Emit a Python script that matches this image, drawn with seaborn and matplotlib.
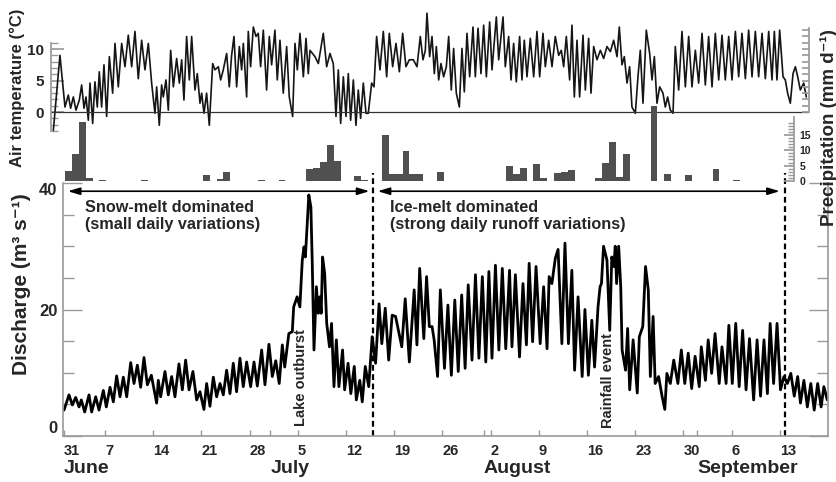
import numpy as np
import pandas as pd
import matplotlib
matplotlib.use("Agg")
import matplotlib.pyplot as plt
import matplotlib.transforms as mtransforms
from matplotlib.ticker import FixedLocator
import seaborn as sns

# ---------------- data (days since 1 June) ----------------
# Discharge (m3 s-1): alternating daily extremes
q_day = [0.05, 0.77, 1.26, 1.74, 2.23, 2.56, 3.05, 3.68, 4.06, 4.65, 5.13, 5.76, 6.19, 6.73,
         7.21, 7.69, 8.18, 8.66, 9.15, 9.73, 10.21, 10.7, 11.18, 11.66, 12.15, 12.73, 13.5, 13.74,
         14.08, 14.71, 15.19, 15.68, 16.16, 16.74, 17.23, 17.71, 18.2, 18.77, 19.31, 19.79, 20.37,
         20.76, 21.24, 21.73, 22.21, 22.7, 23.18, 23.66, 24.15, 24.63, 25.11, 25.6, 26.08, 26.57,
         27.15, 27.64, 28.12, 28.75, 29.23, 29.81,
         30.3, 30.8, 31.3, 31.75, 32.1, 32.7, 33.2, 33.4, 33.9, 34.3, 34.65, 34.9, 35.1, 35.4,
         35.6, 35.9, 36.1, 36.35, 36.7, 36.97, 37.2, 37.4, 37.6, 37.9, 38.2, 38.6, 38.9, 39.25,
         39.6, 39.97, 40.5, 40.8, 41.3, 41.7, 42.2, 42.5, 43.0, 43.36, 43.8, 44.3, 44.8, 45.05,
         45.3, 45.8, 46.2, 46.7, 47.2, 47.7, 48.2, 49.1, 49.6, 50.2, 50.9, 51.3, 51.7, 52.3,
         52.7, 53.1, 53.5, 53.8, 54.3, 54.7, 55.3, 55.8, 56.3, 56.8, 57.3, 57.8, 58.3, 58.75,
         59.3, 59.8, 60.3, 60.8, 61.3, 61.75, 62.2, 62.7, 63.2, 63.7, 64.2, 64.75, 65.1, 65.6,
         66.2, 66.7, 67.2, 67.6, 68.1, 68.6, 69.2, 69.7, 70.2, 70.5, 70.9, 71.4, 71.8, 72.35,
         72.8, 73.3, 73.8, 74.2, 74.7, 75.3, 75.7, 76.2, 76.7, 77.1, 77.6, 77.9, 78.1, 78.4,
         78.9, 79.3, 79.6, 79.9, 80.1, 80.3, 80.6, 80.9, 81.1, 81.6, 81.9, 82.2, 82.7, 83.3,
         83.6, 84.1, 84.5, 84.9, 85.2, 85.6, 85.9, 86.4, 86.9, 87.3, 87.6, 88.1, 88.6, 89.2,
         89.7, 90.2, 90.7, 91.2, 91.7, 92.3, 92.6, 93.2, 93.6, 94.1, 94.6, 95.2, 95.6, 96.2,
         96.6, 97.1, 97.6, 98.1, 98.6, 99.1, 99.6, 100.2, 100.7, 101.2, 101.7, 102.2, 102.6,
         103.1, 103.6, 104.1, 104.6, 105.1, 105.6, 106.1, 106.6, 107.0, 107.5, 108.0, 108.5,
         109.0, 109.5, 110.0, 110.4, 110.9]
q_val = [4.1, 6.5, 4.9, 6.1, 4.6, 5.7, 3.8, 6.5, 3.8, 6.2, 4.1, 7.2, 4.6, 7.7,
         5.4, 9.5, 6.2, 9.3, 6.2, 11.6, 8.3, 11.2, 7.7, 12.4, 8.1, 9.6, 5.2, 8.8,
         6.2, 10.2, 6.5, 9.4, 6.2, 11.4, 7.3, 12.0, 7.3, 10.2, 5.7, 7.0, 4.2,
         8.3, 4.7, 9.3, 6.2, 8.3, 6.5, 10.4, 6.7, 11.5, 7.0, 12.3, 7.8, 11.7,
         7.8, 11.7, 7.9, 13.6, 8.1, 14.5,
         9.4, 11.9, 8.3, 14.4, 10.9, 16.2, 16.5, 20.4, 22.0, 20.4, 27.8, 29.9, 28.3, 34.1,
         38.1, 36.2, 27.3, 13.6, 23.6, 19.4, 22.0, 19.4, 28.3, 25.7, 17.8, 14.1, 17.8, 7.8,
         15.2, 7.8, 13.6, 7.3, 11.5, 6.7, 11.0, 5.7, 8.8, 5.4, 11.0, 7.8, 15.7, 13.6,
         11.5, 20.9, 14.6, 20.2, 12.0, 19.1, 18.9, 14.1, 21.7, 11.7, 23.1, 14.4, 26.5, 15.4,
         25.2, 17.3, 17.3, 15.2, 9.4, 23.1, 10.7, 20.7, 9.6, 21.5, 10.2, 22.3, 10.7, 23.9,
         12.0, 25.5, 12.3, 25.2, 11.7, 26.0, 12.3, 27.0, 13.6, 26.5, 13.8, 26.2, 14.1, 25.5,
         12.5, 24.1, 14.4, 27.3, 14.9, 26.8, 14.6, 23.6, 13.8, 25.2, 24.1, 28.1, 29.5, 14.6,
         30.5, 14.6, 26.2, 10.4, 22.0, 9.4, 20.0, 9.6, 18.3, 10.9, 20.4, 23.6, 24.1, 30.0,
         27.8, 16.7, 28.3, 26.8, 30.0, 24.1, 30.0, 23.6, 13.6, 10.4, 17.0, 7.3, 15.2, 6.8,
         15.7, 17.3, 26.8, 23.1, 9.4, 18.9, 8.3, 9.4, 6.3, 4.2, 9.9, 8.3, 12.0, 8.3,
         13.6, 8.3, 13.1, 7.5, 12.6, 7.8, 14.1, 8.8, 15.2, 9.9, 16.2, 8.3, 14.1, 8.3,
         17.5, 8.3, 17.8, 7.8, 16.7, 7.3, 15.4, 5.7, 15.2, 6.3, 15.2, 6.7, 17.8,
         8.3, 17.8, 7.3, 9.4, 8.3, 9.9, 6.3, 9.4, 5.2, 8.8, 4.6, 8.3,
         4.1, 8.3, 4.6, 7.8, 5.7]

# Air temperature (deg C)
t_day = [-1.50, -0.54, 0.19, 0.67, 1.01, 1.40, 1.79, 2.27, 2.61, 2.95, 3.24, 3.58, 3.82, 4.21,
         4.54, 4.88, 5.17, 5.51, 5.85, 6.24, 6.63, 7.11, 7.45, 7.93, 8.42, 8.90, 9.38, 9.87,
         10.35, 10.83, 11.32, 11.80, 12.29, 12.77, 13.25, 13.50, 13.88, 14.22, 14.46, 14.85,
         15.19, 15.53, 15.92, 16.40, 16.79, 17.13, 17.46, 17.85, 18.24, 18.58, 19.06, 19.40,
         19.79, 20.03, 20.37, 20.75, 21.14, 21.63, 21.96, 22.45, 22.79, 23.17, 23.66, 24.04,
         24.38, 24.72, 25.11, 25.50, 25.84, 26.08, 26.56, 26.80, 27.14, 27.53, 27.92, 28.25,
         28.59, 28.98, 29.46, 29.85, 30.19, 30.67, 31.01, 31.40, 31.88, 32.37, 32.75, 33.24,
         33.58, 33.92, 34.30, 34.79, 35.18, 35.51, 35.76, 36.48, 36.97, 37.69, 38.18, 38.66,
         39.14, 39.53, 39.87, 40.21, 40.60, 40.98, 41.32, 41.66, 42.05, 42.43, 42.77, 43.11,
         43.50, 43.89, 44.22, 44.71, 45.05, 45.43, 45.92, 46.40, 46.89, 47.27, 47.76, 48.24,
         48.73, 49.21, 49.69, 50.18, 50.76,
         51.29, 51.77, 52.16, 52.50, 52.74, 53.13, 53.47, 53.81, 54.10, 54.44, 54.77, 55.16,
         55.55, 55.89, 56.27, 56.61, 57.00, 57.44, 57.82, 58.16, 58.55, 58.94, 59.42, 59.76,
         60.15, 60.58, 60.97, 61.36, 61.84, 62.18, 62.81, 63.15, 63.78, 64.11, 64.60, 64.94,
         65.32, 65.71, 66.19, 66.53, 66.87, 67.26, 67.74, 68.23, 68.71, 69.10, 69.58, 69.92,
         70.41, 70.89, 71.37, 71.86, 72.24, 72.58, 72.97, 73.45, 73.79, 74.13, 74.52, 74.90,
         75.39, 75.73, 76.21, 76.55, 76.94, 77.42, 77.91, 78.39, 78.87, 79.36, 79.84, 80.33,
         80.66, 81.05, 81.39, 81.78, 82.16, 82.50, 82.99, 83.37, 83.71, 84.10, 84.58, 85.07,
         85.41, 85.75, 86.13, 86.52, 87.00, 87.34, 87.68, 88.07, 88.46, 88.79, 89.28, 89.76,
         90.25, 90.73, 91.21, 91.70, 92.18, 92.67, 93.15, 93.63, 94.12, 94.60, 95.09, 95.57,
         96.05, 96.54, 97.02, 97.51, 97.99, 98.47, 98.96, 99.44, 99.93, 100.41, 100.89,
         101.38, 101.86, 102.35, 102.83, 103.17, 103.55, 103.94, 104.43, 104.76, 105.10,
         105.49, 105.88, 106.22, 106.56, 106.94, 107.43, 107.81]
t_val = [-2.9, 9.0, 0.8, 2.7, 0.6, 2.4, 0.3, 1.9, 4.3, 0.6, 2.4, -1.3, 4.6, -1.8,
         4.8, 0.8, 6.4, 0.8, 7.5, -0.7, 8.8, 3.0, 10.9, 4.0, 10.9, 7.2, 12.2, 7.2,
         12.8, 5.3, 11.4, 6.7, 10.9, 4.6, -0.2, 4.0, -2.1, 4.3, 2.4, 5.1,
         0.3, 9.8, 4.0, 8.5, 4.6, 8.3, 1.9, 12.0, 5.1, 12.0, 3.5, 6.1,
         1.4, 3.0, -0.2, 3.0, -2.1, 7.7, 6.7, 7.2, 5.1, 6.7, 9.3, 4.0,
         9.0, 12.0, 4.0, 10.4, 6.7, 10.9, 2.4, 12.8, 7.2, 13.5, 12.0, 12.5,
         7.2, 13.0, 3.5, 12.0, 7.5, 13.0, 5.1, 11.4, 3.0, 10.4, 2.4, -0.7,
         10.9, 6.7, 12.5, 5.6, 11.7, 6.1, 9.8, 8.8, 7.7, 12.5, 7.2, 9.3,
         7.7, -0.7, 6.7, -1.8, 5.6, -0.7, 6.1, -1.3, 5.1, -2.1, 3.5, -1.0,
         4.6, -0.2, -0.2, 4.6, 4.0, 12.0, 6.7, 12.8, 5.6, 12.5, 7.2, 10.9,
         6.4, 12.5, 7.2, 8.3, 8.3,
         7.2, 12.0, 8.3, 9.8, 15.7, 8.8, 12.0, 6.1, 10.4, 5.1, 7.7, 5.6,
         7.2, 12.0, 3.5, 10.1, 3.0, 0.8, 10.1, 3.2, 12.5, 5.6, 13.5, 5.6,
         13.3, 6.1, 13.8, 5.6, 14.3, 6.7, 15.1, 8.3, 15.1, 7.2, 12.0, 5.1,
         10.9, 4.8, 12.0, 5.1, 11.4, 5.6, 11.7, 5.6, 12.8, 5.6, 12.5, 7.2,
         11.4, 7.2, 12.0, 9.0, 9.8, 7.2, 12.0, 5.1, 13.8, 2.4, 11.4, 2.4,
         12.2, 3.5, 11.7, 3.0, 10.4, 8.3, 9.8, 8.5, 10.4, 9.6, 11.4, 8.8,
         13.5, 7.5, 8.8, 4.6, 7.2, 0.8, -0.2, 5.6, 9.8, 1.4, 13.0, 9.3,
         5.1, 8.8, 1.4, 4.0, 3.0, 0.8, 2.4, 0.3, -0.2, 10.4, 3.5, 12.8,
         4.0, 12.0, 4.0, 9.8, 4.6, 12.5, 4.3, 12.0, 4.0, 12.5, 5.1, 12.2,
         5.1, 12.0, 5.1, 12.8, 5.6, 12.5, 5.3, 13.0, 5.6, 12.8, 5.6,
         12.5, 5.3, 12.8, 5.1, 12.8, 5.1, 13.0, 5.6, 5.1, 3.0,
         1.4, 6.1, 7.2, 5.6, 3.5, 4.6, 2.4]

# Daily precipitation (mm d-1)
p_day = [0, 1, 2, 3, 5, 11, 20, 22, 23, 28, 31, 35, 36, 37, 38, 39, 42, 43, 46, 47, 48, 49,
         50, 51, 54, 64, 65, 66, 68, 69, 71, 72, 73, 77, 78, 79, 80, 81, 85, 87, 90, 94, 97]
p_val = [3.4, 8.8, 19.1, 0.9, 0.3, 0.3, 2.0, 0.6, 2.8, 0.3, 0.4, 3.8, 4.1, 6.3, 11.7, 6.5,
         1.6, 0.4, 15.0, 2.3, 2.4, 9.9, 2.4, 2.3, 3.0, 4.9, 2.3, 4.3, 5.5, 0.9, 2.7, 3.0, 3.6,
         0.9, 6.0, 12.8, 1.2, 8.7, 24.4, 2.3, 1.8, 3.8, 0.4]

# Tick labels
week_pos = [0, 6, 13, 20, 27, 34, 41, 48, 55, 62, 69, 76, 83, 90, 97, 104]
week_lab = ['31', '7', '14', '21', '28', '5', '12', '19', '26', '2', '9', '16', '23', '30', '6', '13']
month_pos = [0, 30, 61, 92]
month_lab = ['June', 'July', 'August', 'September']
regime_split = [44.95, 104.7]

assert len(q_day) == len(q_val), (len(q_day), len(q_val))
assert len(t_day) == len(t_val), (len(t_day), len(t_val))

# ---------------- figure ----------------
sns.set_theme(style="white")
plt.rcParams['font.family'] = ['Liberation Sans', 'DejaVu Sans']
plt.rcParams['font.weight'] = 'bold'
plt.rcParams['axes.unicode_minus'] = False

W, H = 837, 482
fig = plt.figure(figsize=(W / 100, H / 100), dpi=100)


def box(x0, y0, x1, y1):
    return [x0 / W, 1 - y1 / H, (x1 - x0) / W, (y1 - y0) / H]


GREY = '#9a9a9a'

# ---- bottom: discharge ----
ax = fig.add_axes(box(63, 183, 828, 436))
dq = pd.DataFrame({'day': q_day, 'Q': q_val})
sns.lineplot(data=dq, x='day', y='Q', ax=ax, color='black', lw=2.0,
             sort=False, estimator=None)
ax.lines[0].set_solid_joinstyle('round')
ax.set_xlim(-0.1, 111.0)
ax.set_ylim(0, 40)
ax.set_xlabel('')
ax.set_ylabel('')
for s in ['left', 'right', 'bottom']:
    ax.spines[s].set_color(GREY)
    ax.spines[s].set_linewidth(1.2)
ax.spines['top'].set_visible(False)

ax.yaxis.set_major_locator(FixedLocator([0, 20, 40]))
ax.yaxis.set_minor_locator(FixedLocator([5, 10, 15, 25, 30, 35]))
ax.tick_params(axis='y', which='major', direction='in', length=14, width=1, color=GREY,
               right=True, left=True, labelsize=12, pad=4)
ax.tick_params(axis='y', which='minor', direction='in', length=8, width=1, color=GREY,
               right=True, left=True)
ylabs = ax.set_yticklabels(['0', '20', '40'], fontweight='bold')
ylabs[0].set_va('bottom')
ylabs[2].set_va('top')

ax.set_xticks(week_pos)
ax.set_xticklabels(week_lab, fontweight='bold', ha='left')
ax.set_xticks(month_pos[1:], minor=True)
ax.tick_params(axis='x', which='both', direction='in', length=4, width=1, color=GREY,
               labelsize=10.5, pad=6, bottom=True)

trans = mtransforms.blended_transform_factory(ax.transData, ax.transAxes)
for p, lab in zip(month_pos, month_lab):
    ax.text(p, -0.095, lab, transform=trans, ha='left', va='top', fontsize=14,
            fontweight='bold')

# regime arrows and dashed separators
ax.annotate('', xy=(0.6, 38.7), xytext=(44.4, 38.7),
            arrowprops=dict(arrowstyle='<|-|>,head_length=0.6,head_width=0.18',
                            color='black', lw=1.2, shrinkA=0, shrinkB=0))
ax.annotate('', xy=(45.6, 38.7), xytext=(104.0, 38.7),
            arrowprops=dict(arrowstyle='<|-|>,head_length=0.6,head_width=0.18',
                            color='black', lw=1.2, shrinkA=0, shrinkB=0))
for xs in regime_split:
    ax.axvline(xs, ymin=0, ymax=1.04, color='black', lw=1.6, ls=(0, (2.6, 1.6)),
               clip_on=False)

ax.text(3.1, 37.3, 'Snow-melt dominated\n(small daily variations)', ha='left', va='top',
        fontsize=11.7, fontweight='bold', linespacing=1.15)
ax.text(47.4, 37.3, 'Ice-melt dominated\n(strong daily runoff variations)', ha='left',
        va='top', fontsize=11.7, fontweight='bold', linespacing=1.15)
ax.text(34.5, 1.6, 'Lake outburst', rotation=90, ha='center', va='bottom',
        fontsize=10.5, fontweight='bold')
ax.text(79.0, 1.3, 'Rainfall event', rotation=90, ha='center', va='bottom',
        fontsize=10.5, fontweight='bold')

# ---- top: air temperature + precipitation ----
axt = fig.add_axes(box(51, 10, 809, 182))
dt = pd.DataFrame({'day': t_day, 'T': t_val})
sns.lineplot(data=dt, x='day', y='T', ax=axt, color='#151515', lw=1.2,
             sort=False, estimator=None)
axt.lines[0].set_solid_joinstyle('round')
axt.set_xlim(-1.84, 108.2)
axt.set_ylim(-11.1, 16.2)
axt.set_xlabel('')
axt.set_ylabel('')
axt.set_facecolor('none')
axt.axhline(0, color='#333333', lw=0.9)
axt.set_xticks([])
for s in ['top', 'bottom', 'right']:
    axt.spines[s].set_visible(False)
axt.spines['left'].set_color(GREY)
axt.spines['left'].set_bounds(-3, 11)
axt.yaxis.set_major_locator(FixedLocator([0, 5, 10]))
axt.yaxis.set_minor_locator(FixedLocator([-3, -2, -1, 1, 2, 3, 4, 6, 7, 8, 9, 11]))
axt.tick_params(axis='y', which='major', direction='in', length=9, color=GREY,
                labelsize=11, pad=5, left=True, right=False)
axt.tick_params(axis='y', which='minor', direction='in', length=5, color=GREY,
                left=True, right=False)
axt.set_yticklabels(['0', '5', '10'], fontweight='bold')

# right temperature frame with ticks
axr = axt.twinx()
axr.set_ylim(-11.1, 16.2)
for s in ['top', 'bottom', 'left']:
    axr.spines[s].set_visible(False)
axr.spines['right'].set_color(GREY)
axr.spines['right'].set_bounds(0, 13.3)
axr.yaxis.set_major_locator(FixedLocator(list(range(0, 14))))
axr.tick_params(axis='y', direction='in', length=5, color=GREY, labelright=False,
                right=True)

# precipitation bars
axp = axt.twinx()
dp = pd.DataFrame({'day': np.array(p_day) + 0.7, 'P': p_val})
sns.histplot(data=dp, x='day', weights='P', binwidth=1, binrange=(0.2, 98.2), ax=axp,
             color='#505050', alpha=1, edgecolor='none', linewidth=0)
axp.set_ylim(-0.33, 55.7)
axp.set_xlim(-1.84, 108.2)
axp.set_xlabel('')
axp.set_ylabel('')
axp.set_xticks([])
for s in ['top', 'bottom', 'left']:
    axp.spines[s].set_visible(False)
axp.spines['right'].set_position(('data', 106.0))
axp.spines['right'].set_color(GREY)
axp.spines['right'].set_bounds(0, 20.8)
axp.yaxis.set_major_locator(FixedLocator([0, 5, 10, 15]))
axp.yaxis.set_minor_locator(FixedLocator([v for v in range(0, 21) if v % 5]))
axp.tick_params(axis='y', which='major', direction='in', length=7, color=GREY,
                labelsize=7.5, pad=4, right=True)
axp.tick_params(axis='y', which='minor', direction='in', length=4, color=GREY, right=True)
axp.set_yticklabels(['0', '5', '10', '15'], fontweight='bold')

# axis titles
fig.text(17 / W, 1 - 88 / H, 'Air temperature (°C)', rotation=90, ha='center',
         va='center', fontsize=12, fontweight='bold')
fig.text(829 / W, 1 - 128 / H, 'Precipitation (mm d⁻¹)', rotation=90, ha='center',
         va='center', fontsize=13.5, fontweight='bold')
fig.text(22 / W, 1 - 284 / H, 'Discharge (m³ s⁻¹)', rotation=90, ha='center',
         va='center', fontsize=15, fontweight='bold')

fig.savefig('out.png', dpi=100)
